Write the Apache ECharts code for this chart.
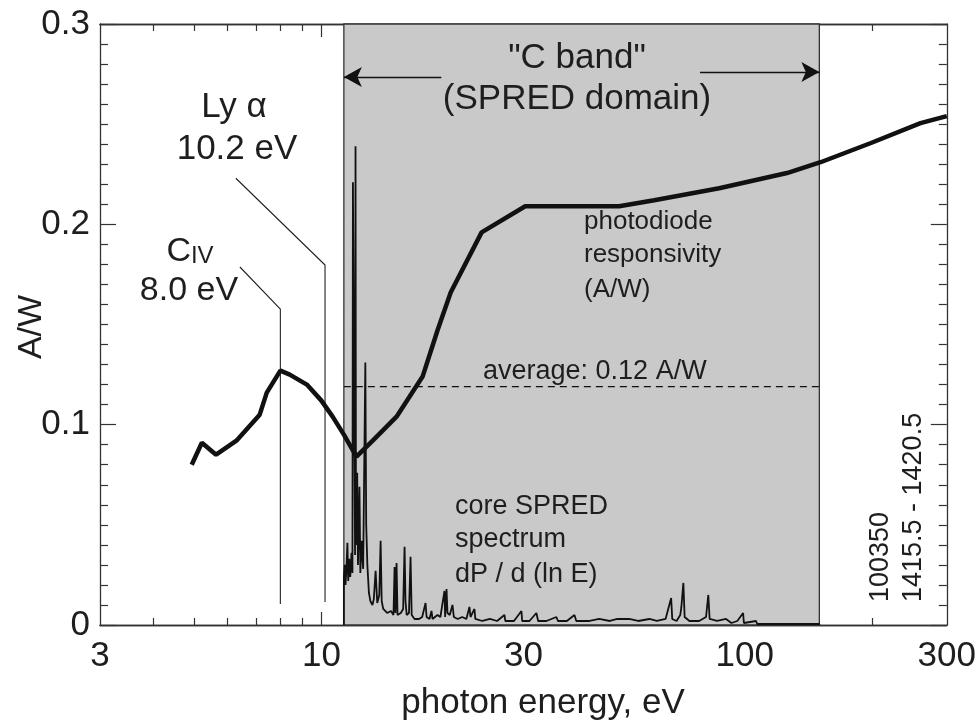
<!DOCTYPE html>
<html><head><meta charset="utf-8">
<script src="https://cdn.jsdelivr.net/npm/echarts@6/dist/echarts.min.js"></script>
<style>html,body{margin:0;padding:0;background:#fff}#c{width:979px;height:726px}</style>
</head><body><div id="c"></div>
<script>
// ---- data ----
const xLabelValues = [3, 10, 30, 100, 300];
const xMajorTicks = [10, 100];
const xMinorTicks = [4, 5, 6, 7, 8, 9, 20, 30, 40, 50, 60, 70, 80, 90, 200];
const bandRange = [11.3, 150];
const averageValue = 0.119;
const responsivity = [
 [4.94,0.080],[5.22,0.091],[5.64,0.085],[6.30,0.092],[7.15,0.105],[7.43,0.116],[8.0,0.127],
 [8.42,0.125],[9.24,0.120],[10.0,0.112],[10.63,0.104],[11.3,0.095],[12.1,0.084],[13.22,0.092],
 [15.05,0.104],[17.34,0.124],[18.8,0.147],[20.2,0.166],[23.9,0.196],[30.3,0.209],[50.5,0.209],
 [61.1,0.212],[87,0.218],[125.8,0.2256],[151,0.231],[198.6,0.2406],[260,0.2505],[300,0.254]
];
const spectrum = [
 [11.30,0.000],[11.30,0.024],[11.36,0.030],[11.40,0.020],[11.46,0.028],[11.52,0.041],[11.57,0.022],
 [11.63,0.033],[11.70,0.024],[11.78,0.036],[11.84,0.026],[11.87,0.221],[11.99,0.221],[12.01,0.035],
 [12.04,0.239],[12.07,0.040],[12.15,0.076],[12.20,0.030],[12.30,0.069],[12.36,0.026],[12.45,0.042],
 [12.55,0.028],[12.70,0.131],[12.76,0.050],[12.84,0.030],[12.95,0.016],[13.05,0.012],[13.20,0.010],
 [13.30,0.013],[13.43,0.027],[13.55,0.011],[13.70,0.015],[13.80,0.042],[13.88,0.012],[14.00,0.008],
 [14.30,0.006],[14.60,0.007],[14.80,0.005],[14.89,0.029],[14.96,0.006],[15.05,0.031],[15.13,0.005],
 [15.40,0.006],[15.60,0.008],[15.72,0.039],[15.80,0.012],[15.90,0.005],[16.10,0.006],[16.24,0.034],
 [16.34,0.005],[16.60,0.003],[17.00,0.003],[17.30,0.004],[17.62,0.011],[17.72,0.004],[18.0,0.003],
 [18.2,0.007],[18.3,0.003],[18.8,0.005],[19.1,0.004],[19.53,0.017],[19.60,0.004],[19.75,0.018],
 [19.85,0.006],[20.10,0.005],[20.40,0.010],[20.55,0.004],[21.0,0.003],[21.5,0.004],[22.0,0.003],
 [22.37,0.009],[22.50,0.004],[22.99,0.008],[23.10,0.003],[24.0,0.002],[25.0,0.003],[26.0,0.002],
 [27.06,0.005],[27.20,0.002],[28.5,0.002],[29.68,0.007],[29.80,0.002],[31.0,0.002],[32.2,0.006],
 [32.5,0.002],[34.0,0.002],[35.9,0.004],[36.2,0.002],[38.0,0.002],[39.6,0.005],[40.0,0.002],
 [43.0,0.002],[45.3,0.003],[48.0,0.002],[50.0,0.003],[53.3,0.003],[56.0,0.002],[59.5,0.003],
 [62.0,0.002],[65.0,0.003],[67.0,0.0135],[67.4,0.003],[69.0,0.002],[70.4,0.005],[70.8,0.0085],
 [71.6,0.021],[72.1,0.004],[74.0,0.002],[78.0,0.002],[81.0,0.004],[82.0,0.015],[82.6,0.003],
 [86.0,0.002],[90.3,0.003],[93.0,0.001],[96.0,0.002],[99.1,0.006],[99.5,0.001],[106.3,0.002],
 [107,0.0005],[118,0.0005],[150,0.0005],[150,0]
];
const civLeader = [[6.42,0.1787],[8.0,0.1577],[8.0,0.0105]];
const lyaLeader = [[6.28,0.223],[10.2,0.1797],[10.2,0.0115]];
const leftArrow = [[19.2,0.2735],[11.3,0.2735]];
const rightArrow = [[78.4,0.276],[150,0.276]];

// ---- chart ----
const FONT = "'Liberation Sans', Arial, Helvetica, sans-serif";
const INK = '#1e1e1e';
const tickLine = {color:'#333', width:1.2};
function xAx(pos, ticks, len, labels) {
  return {type:'log', logBase:10, min:3, max:300, position:pos, gridIndex:0,
    axisLine:{show:true, onZero:false, lineStyle:{color:'#333', width:1.3}},
    axisTick:{show:true, inside:true, length:len, customValues:ticks, lineStyle:tickLine},
    axisLabel: labels ? {show:true, customValues:labels, fontSize:35, fontFamily:FONT, color:INK, margin:14,
      formatter: v => String(Math.round(v))} : {show:false},
    splitLine:{show:false}, minorTick:{show:false}, minorSplitLine:{show:false}};
}
function yAx(pos, labels) {
  return {type:'value', min:0, max:0.3, interval:0.1, position:pos, gridIndex:0,
    axisLine:{show:true, onZero:false, lineStyle:{color:'#333', width:1.3}},
    axisTick:{show:true, inside:true, length:16, lineStyle:tickLine},
    minorTick:{show:true, splitNumber:10, length:8, lineStyle:tickLine},
    axisLabel: labels ? {show:true, fontSize:35, fontFamily:FONT, color:INK, margin:10} : {show:false},
    splitLine:{show:false}, minorSplitLine:{show:false}};
}
function txt(text, x, y, size, opts) {
  return Object.assign({type:'text', x:x, y:y, z:100, silent:true, style:Object.assign({text:text, fontSize:size, fontFamily:FONT,
    fill:INK, textAlign:'center', textVerticalAlign:'middle'}, (opts && opts.style) || {})},
    opts && opts.rotation !== undefined ? {rotation:opts.rotation} : {});
}
const chart = echarts.init(document.getElementById('c'));
chart.setOption({
  backgroundColor:'#fff',
  animation:false,
  grid:{left:100, right:31, top:24, bottom:101, containLabel:false},
  xAxis:[xAx('bottom', xMajorTicks, 13, xLabelValues), xAx('bottom', xMinorTicks, 7, null),
         xAx('top', xMajorTicks, 13, null), xAx('top', xMinorTicks, 7, null)],
  yAxis:[yAx('left', true), yAx('right', false)],
  series:[
    {type:'line', name:'average', data:[[bandRange[0],averageValue],[bandRange[1],averageValue]], showSymbol:false, silent:true,
     lineStyle:{color:'#111', width:1.3, type:[7,5]}, z:3,
     markArea:{silent:true, itemStyle:{color:'#c9c9c9', borderColor:'#333', borderWidth:1.3},
       data:[[{coord:[bandRange[0],0]},{coord:[bandRange[1],0.3]}]]},
     markLine:{silent:true, symbol:['none','arrow'], symbolSize:[15,18], label:{show:false},
       lineStyle:{color:'#111', width:1.4, type:'solid'},
       data:[[{coord:leftArrow[0]},{coord:leftArrow[1]}],[{coord:rightArrow[0]},{coord:rightArrow[1]}]]}},
    {type:'line', name:'spectrum', data:spectrum, showSymbol:false, silent:true, lineStyle:{color:'#111', width:1.8}, z:4},
    {type:'line', name:'responsivity', data:responsivity, showSymbol:false, silent:true, lineStyle:{color:'#111', width:4.5}, z:6},
    {type:'line', name:'civ', data:civLeader, showSymbol:false, silent:true, lineStyle:{color:'#222', width:1.1}, z:5},
    {type:'line', name:'lya', data:lyaLeader, showSymbol:false, silent:true, lineStyle:{color:'#222', width:1.1}, z:5}
  ],
  graphic:[
    txt('A/W', 32, 327, 34, {rotation:Math.PI/2}),
    txt('photon energy, eV', 543, 703, 35),
    txt('Ly α', 234, 107, 35),
    txt('10.2 eV', 237, 149, 35),
    {type:'text', x:190, y:252, z:100, silent:true, style:{text:'{a|C}{b|IV}', fontFamily:FONT, fill:INK, textAlign:'center', textVerticalAlign:'middle',
      rich:{a:{fontSize:34, fontFamily:FONT, fill:INK, verticalAlign:'bottom'}, b:{fontSize:24, fontFamily:FONT, fill:INK, verticalAlign:'bottom', padding:[0,0,1,0]}}}},
    txt('8.0 eV', 189, 291, 34),
    txt('"C band"', 577, 58, 35),
    txt('(SPRED domain)', 577, 99, 35),
    txt('photodiode', 584, 222, 26, {style:{textAlign:'left'}}),
    txt('responsivity', 584, 255, 26, {style:{textAlign:'left'}}),
    txt('(A/W)', 584, 290, 26, {style:{textAlign:'left'}}),
    txt('average: 0.12 A/W', 483, 372, 27, {style:{textAlign:'left'}}),
    txt('core SPRED', 455, 507, 27, {style:{textAlign:'left'}}),
    txt('spectrum', 455, 540, 27, {style:{textAlign:'left'}}),
    txt('dP / d (ln E)', 455, 575, 27, {style:{textAlign:'left'}}),
    txt('100350', 881, 602, 27, {rotation:Math.PI/2, style:{textAlign:'left'}}),
    txt('1415.5 - 1420.5', 914, 602, 27, {rotation:Math.PI/2, style:{textAlign:'left'}})
  ]
});
</script></body></html>
